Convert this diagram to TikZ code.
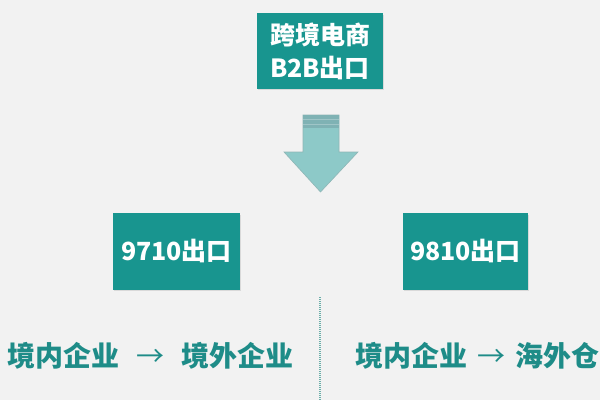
\documentclass[tikz,border=0pt]{standalone}
\usepackage{fontspec}
\newfontfamily\cjk{Noto Sans CJK SC}
\definecolor{bg}{HTML}{F2F2F2}
\definecolor{teal1}{HTML}{18958F}
\definecolor{tealtext}{HTML}{1E8C88}
\definecolor{arrowfill}{HTML}{8DC9C8}
\definecolor{arrowband}{HTML}{7FB2B4}
\definecolor{arrowedge}{HTML}{8FB6B6}
\definecolor{dotline}{HTML}{6AADA8}
\tikzset{
  tealbox/.style={fill=teal1, text=white, inner sep=0pt, minimum width=#1, minimum height=77pt, align=center,
     font=\cjk\bfseries\fontsize{25pt}{33pt}\selectfont},
  flowtext/.style={text=tealtext, inner sep=0pt, font=\cjk\bfseries\fontsize{28pt}{32pt}\selectfont},
}
\newcommand{\thinarrow}{{\mdseries →}}
\begin{document}
\begin{tikzpicture}[x=1pt,y=-1pt]
\useasboundingbox (0,0) rectangle (600,400);
\fill[bg] (0,0) rectangle (600,400);

% top box
\fill[black!15] (258,15) rectangle (384,90);
\node[tealbox=126pt, minimum height=76pt] (top) at (320,51) {跨境电商\\B2B出口};

% arrow
\path[fill=arrowfill, draw=arrowedge, line width=0.6pt]
  (303,115) -- (339,115) -- (339,152) -- (358,152) -- (320.5,192) -- (284,152) -- (303,152) -- cycle;
\fill[arrowband] (303,115) rectangle (339,128);
\draw[arrowband!75!white, line width=0.5pt] (303,119) -- (339,119) (303,124) -- (339,124);
\coordinate (arrowtip) at (320.5,192);

% second-level boxes
\fill[black!15] (114,215) rectangle (241,291);
\node[tealbox=127pt] (b9710) at (176.5,251.5) {9710出口};
\fill[black!15] (404,215) rectangle (529,291);
\node[tealbox=125pt] (b9810) at (465.5,251.5) {9810出口};

% separator
\coordinate (sepTop) at (320,297);
\coordinate (sepBot) at (320,400);
\draw[dotline, line width=1.1pt, dash pattern=on 1pt off 1pt] (sepTop) -- (sepBot);

% flow texts
\node[flowtext, anchor=west] (lt) at (7,356) {境内企业\hspace{17pt}\thinarrow\hspace{17pt}境外企业};
\node[flowtext, anchor=west] (rt) at (355,356) {境内企业\hspace{10pt}\thinarrow\hspace{10pt}海外仓};
\end{tikzpicture}
\end{document}
